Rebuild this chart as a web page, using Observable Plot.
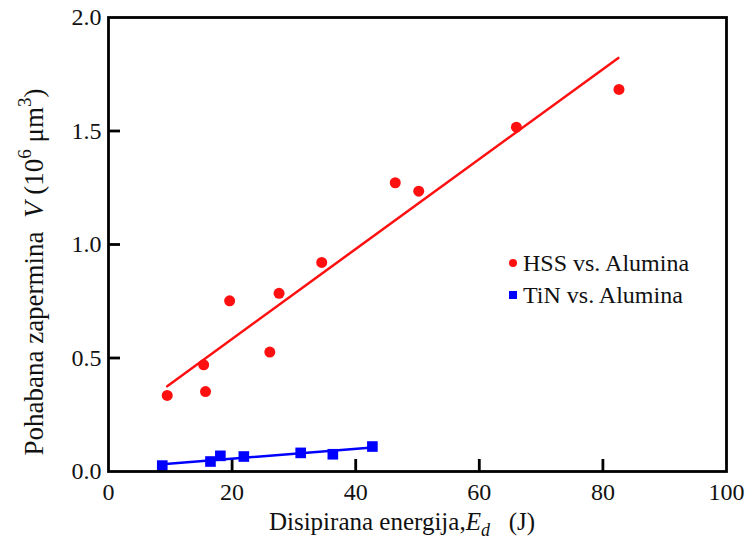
<!DOCTYPE html>
<html>
<head>
<meta charset="utf-8">
<script src="https://cdn.jsdelivr.net/npm/d3@7"></script>
<script src="https://cdn.jsdelivr.net/npm/@observablehq/plot@0.6"></script>
<style>
  html, body { margin: 0; padding: 0; background: #fff; }
  #chart { position: relative; width: 746px; height: 541px; }
  .legend { position: absolute; font-family: "Liberation Serif", "Times New Roman", serif; font-size: 24px; color: #111; }
  .legend div { display: flex; align-items: center; height: 32px; }
  .legend span.sym { display: inline-block; margin-right: 6px; }
</style>
</head>
<body>
<div id="chart"></div>
<script>
// HSS vs. Alumina measured points
const hssE = [9.5, 15.4, 15.7, 19.6, 26.1, 27.6, 34.5, 46.4, 50.2, 66.0, 82.6];
const hssV = [0.335, 0.470, 0.352, 0.752, 0.526, 0.785, 0.921, 1.272, 1.235, 1.517, 1.683];
// HSS fitted line endpoints
const hssFitE = [9.5, 82.5];
const hssFitV = [0.376, 1.822];

// TiN vs. Alumina measured points
const tinE = [8.7, 16.5, 18.1, 21.9, 31.1, 36.3, 42.7];
const tinV = [0.026, 0.044, 0.069, 0.066, 0.082, 0.076, 0.110];
// TiN fitted line endpoints
const tinFitE = [8.7, 42.7];
const tinFitV = [0.032, 0.106];

const xTicks = [0, 20, 40, 60, 80, 100];
const yTicks = [0, 0.5, 1.0, 1.5, 2.0];
const xInner = [20, 40, 60, 80];
const yInner = [0.5, 1.0, 1.5];

const seriesNames = ["HSS vs. Alumina", "TiN vs. Alumina"];
const red = "#ff1010";
const blue = "#0000ff";
const FONT = "'Liberation Serif', 'Times New Roman', serif";

const hss = hssE.map((e, i) => ({E: e, V: hssV[i]}));
const tin = tinE.map((e, i) => ({E: e, V: tinV[i]}));
const hssFit = hssFitE.map((e, i) => ({E: e, V: hssFitV[i]}));
const tinFit = tinFitE.map((e, i) => ({E: e, V: tinFitV[i]}));

const plot = Plot.plot({
  width: 746,
  height: 541,
  marginLeft: 108,
  marginRight: 20,
  marginTop: 17,
  marginBottom: 70,
  style: {fontFamily: FONT, fontSize: "24px", color: "#111", background: "white"},
  x: {domain: [0, 100]},
  y: {domain: [0, 2]},
  marks: [
    Plot.axisX({ticks: xTicks, tickSize: 0, tickPadding: 11, tickFormat: d => String(d), label: null, fontSize: 24}),
    Plot.axisY({ticks: yTicks, tickSize: 0, tickPadding: 7, tickFormat: d3.format(".1f"), label: null, fontSize: 24}),
    Plot.ruleX(xInner, {x: d => d, y1: 0, y2: 0, insetBottom: 12, stroke: "#000", strokeWidth: 2.8}),
    Plot.ruleY(yInner, {y: d => d, x1: 0, x2: 0, insetRight: -12, stroke: "#000", strokeWidth: 2.8}),
    Plot.line(hssFit, {x: "E", y: "V", stroke: red, strokeWidth: 2.5}),
    Plot.line(tinFit, {x: "E", y: "V", stroke: blue, strokeWidth: 2.5}),
    Plot.dot(hss, {x: "E", y: "V", r: 5.5, fill: red, stroke: "none"}),
    Plot.dot(tin, {x: "E", y: "V", r: 6, symbol: "square", fill: blue, stroke: "none"}),
    Plot.frame({stroke: "#000", strokeWidth: 2.8})
  ]
});

const svg = d3.select(plot);
// y-axis title with superscripts
const yt = svg.append("text")
  .attr("transform", "translate(43,272) rotate(-90)")
  .attr("text-anchor", "middle")
  .attr("font-family", FONT)
  .attr("font-size", 27)
  .attr("fill", "#111");
yt.append("tspan").text("Pohabana zapermina  ");
yt.append("tspan").attr("font-style", "italic").text("V");
yt.append("tspan").text(" (10");
yt.append("tspan").attr("dy", -12).attr("font-size", 19).text("6");
yt.append("tspan").attr("dy", 12).text(" μm");
yt.append("tspan").attr("dy", -12).attr("font-size", 19).text("3");
yt.append("tspan").attr("dy", 12).text(")");

// x-axis title with subscript
const xt = svg.append("text")
  .attr("x", 402)
  .attr("y", 530)
  .attr("text-anchor", "middle")
  .attr("font-family", FONT)
  .attr("font-size", 25)
  .attr("fill", "#111");
xt.append("tspan").text("Disipirana energija,");
xt.append("tspan").attr("font-style", "italic").text("E");
xt.append("tspan").attr("font-style", "italic").attr("dy", 6).attr("font-size", 18).text("d");
xt.append("tspan").attr("dy", -6).text("   (J)");

const chart = document.getElementById("chart");
chart.appendChild(plot);

// legend
const legend = document.createElement("div");
legend.className = "legend";
legend.style.left = "509px";
legend.style.top = "247px";
legend.innerHTML =
  `<div><span class="sym" style="width:8px;height:8px;border-radius:50%;background:${red}"></span>${seriesNames[0]}</div>` +
  `<div><span class="sym" style="width:8px;height:8px;background:${blue}"></span>${seriesNames[1]}</div>`;
chart.appendChild(legend);
</script>
</body>
</html>
